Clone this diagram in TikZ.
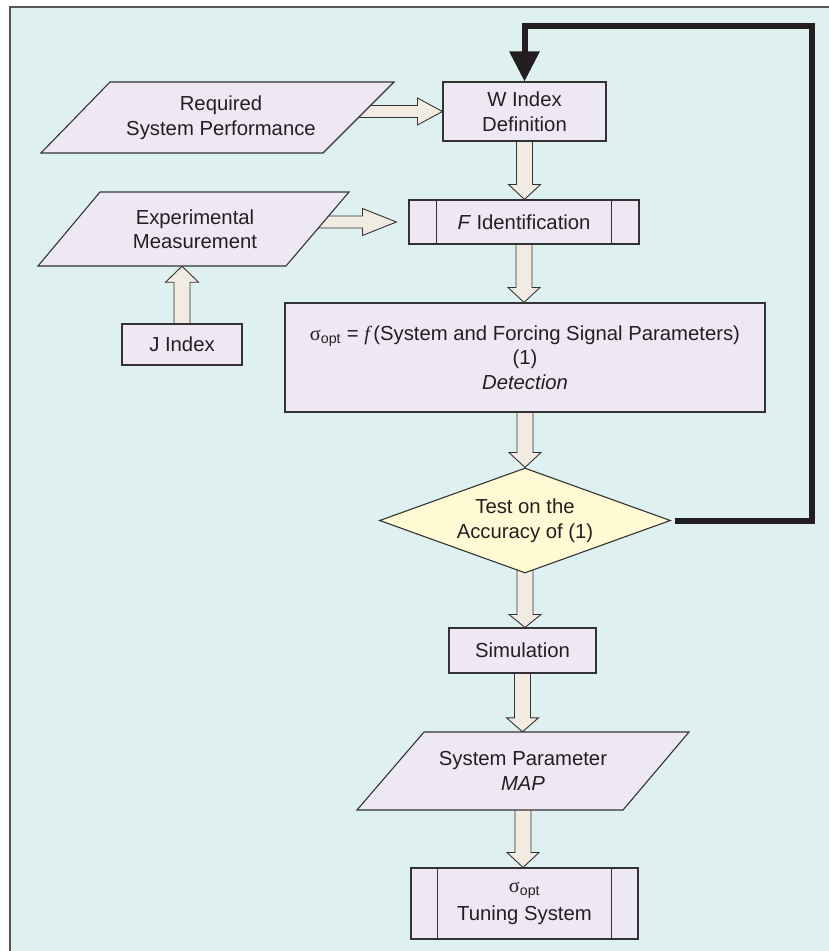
\documentclass[tikz,border=0pt]{standalone}
\usepackage{fontspec}
\setmainfont{Liberation Sans}
\newfontfamily\serifg{Liberation Serif}
\usetikzlibrary{shapes.geometric,arrows.meta,calc}
\pgfdeclarelayer{bgl}
\pgfdeclarelayer{arrl}
\pgfsetlayers{bgl,arrl,main}
\definecolor{bgc}{HTML}{DFF0F0}
\definecolor{boxc}{HTML}{EEE8F4}
\definecolor{arrc}{HTML}{F2EBE1}
\definecolor{diac}{HTML}{FFFAD4}
\definecolor{strokec}{HTML}{333333}
\definecolor{textc}{HTML}{231F20}
\definecolor{borderc}{HTML}{555555}
\tikzset{
  box/.style={draw=strokec, fill=boxc, line width=1.1pt, align=center, inner sep=2pt},
  shp/.style={draw=strokec, fill=boxc, line width=1.1pt, line join=miter},
  txt/.style={align=center, inner sep=0pt},
  dia/.style={diamond, draw=strokec, fill=diac, line width=1.1pt, align=center, inner sep=0pt, aspect=2.77, minimum width=291pt, minimum height=105pt},
  fat/.style={draw=strokec, fill=arrc, line width=0.9pt, line join=miter},
  fb/.style={draw=textc, line width=6pt, line join=miter, -{Triangle[length=30pt,width=29pt]}},
  strk/.style={draw=strokec, line width=1.1pt}
}
\newcommand\fatdown[3][15pt]{%
\begin{pgfonlayer}{arrl}
\draw[fat] let \p1=(#2.center), \p2=(#3.north) in
 (\x1-8pt,\y1) -- (\x1-8pt,\y2+#1) -- (\x1-16pt,\y2+#1) -- (\x1,\y2) -- (\x1+16pt,\y2+#1) -- (\x1+8pt,\y2+#1) -- (\x1+8pt,\y1);
\end{pgfonlayer}}
\newcommand\fatup[3][16pt]{%
\begin{pgfonlayer}{arrl}
\draw[fat] let \p1=(#2.center), \p2=(#3.south) in
 (\x1-8pt,\y1) -- (\x1-8pt,\y2-#1) -- (\x1-16.5pt,\y2-#1) -- (\x1,\y2) -- (\x1+16.5pt,\y2-#1) -- (\x1+8pt,\y2-#1) -- (\x1+8pt,\y1);
\end{pgfonlayer}}
\newcommand\fatright[4][25pt]{%
\begin{pgfonlayer}{arrl}
\draw[fat] let \p1=(#2.center), \p2=(#3.west) in
 (\x1,\y2+6pt) -- (\x2-#4-#1,\y2+6pt) -- (\x2-#4-#1,\y2+13.5pt) -- (\x2-#4,\y2) -- (\x2-#4-#1,\y2-13.5pt) -- (\x2-#4-#1,\y2-6pt) -- (\x1,\y2-6pt);
\end{pgfonlayer}}
\begin{document}
\begin{tikzpicture}[x=1pt,y=-1pt,font=\fontsize{20.3}{24.5}\selectfont,text=textc]
\useasboundingbox (0,0) rectangle (829,951);
\begin{pgfonlayer}{bgl}
\fill[bgc] (10,7) rectangle (829,951);
\draw[borderc,line width=1.5pt] (10,951) -- (10,7) -- (829,7);
\end{pgfonlayer}

% parallelograms
\draw[shp] (110,82) -- (394,82) -- (323,153) -- (41,153) -- cycle;
\node[txt, minimum height=71pt] (req) at (221,117.5) {Required\\System Performance};
\draw[shp] (100,192) -- (349,192) -- (286,266) -- (38,266) -- cycle;
\node[txt, minimum height=74pt] (exp) at (195,229) {Experimental\\Measurement};
\draw[shp] (424,732) -- (689,732) -- (623,810) -- (357,810) -- cycle;
\node[txt, minimum height=78pt] (map) at (523,771) {System Parameter\\\textit{MAP}};

% boxes
\node[box, minimum width=163pt, minimum height=59pt] (w) at (524.5,111.5) {W Index\\Definition};
\node[box, minimum width=230pt, minimum height=44pt] (f) at (524,222) {\textit{F} Identification};
\draw[strk] ([xshift=28pt]f.north west) -- ([xshift=28pt]f.south west);
\draw[strk] ([xshift=-28pt]f.north east) -- ([xshift=-28pt]f.south east);
\node[box, minimum width=120pt, minimum height=41pt] (j) at (182,344.5) {J Index};
\node[box, minimum width=480pt, minimum height=109pt] (sig) at (525,357.5)
  {{\serifg σ}\textsubscript{opt} = {\serifg\itshape f\,}(System and Forcing Signal Parameters)\\(1)\\\textit{Detection}};
\node[dia] (dia) at (525,520.5) {Test on the\\Accuracy of (1)};
\node[box, minimum width=147pt, minimum height=45pt] (sim) at (522.5,650.5) {Simulation};
\node[box, minimum width=227pt, minimum height=71pt] (tun) at (524.5,903.5) {{\serifg σ}\textsubscript{opt}\\[3pt]Tuning System};
\draw[strk] ([xshift=27pt]tun.north west) -- ([xshift=27pt]tun.south west);
\draw[strk] ([xshift=-27pt]tun.north east) -- ([xshift=-27pt]tun.south east);

% fat arrows
\fatright{req}{w}{0pt}
\fatright[34pt]{exp}{f}{12pt}
\fatup{j}{exp}
\fatdown{w}{f}
\fatdown{f}{sig}
\fatdown{sig}{dia}
\fatdown[13pt]{dia}{sim}
\fatdown[14pt]{sim}{map}
\fatdown{map}{tun}

% feedback
\coordinate (fbc) at (812,26);
\draw[fb] ([xshift=4pt]dia.east) -| (fbc) -| (w.north);
\end{tikzpicture}
\end{document}
